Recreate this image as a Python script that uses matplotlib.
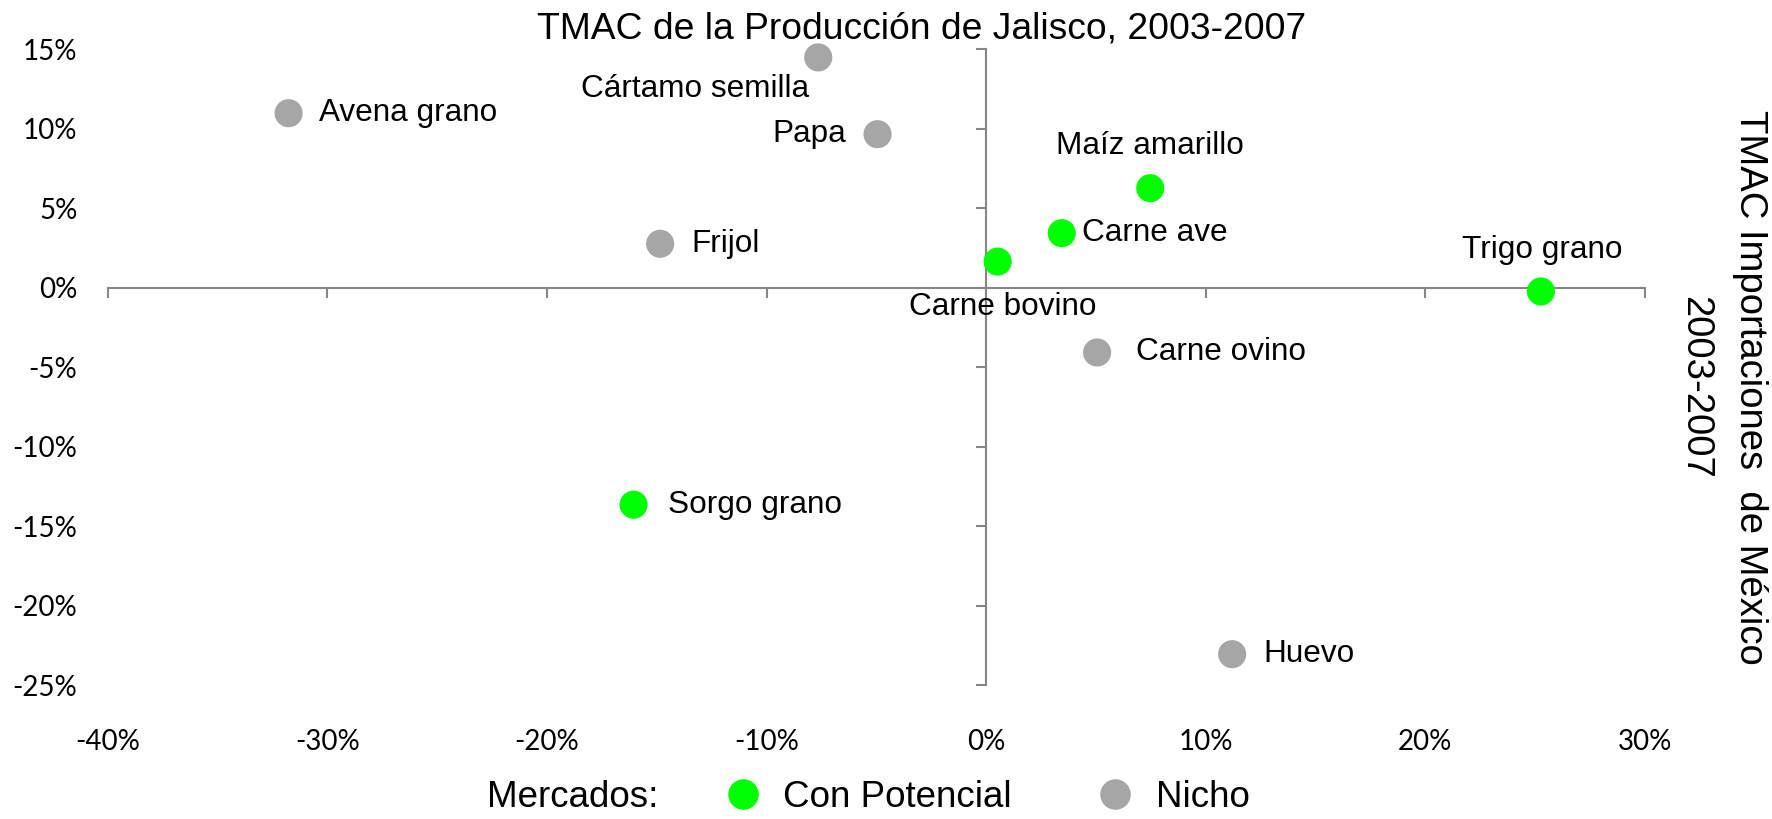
import matplotlib
matplotlib.use("Agg")
import matplotlib.pyplot as plt
from matplotlib.lines import Line2D
from matplotlib.ticker import FixedLocator

# ---------------- data ----------------
productos = ["Cártamo semilla", "Avena grano", "Papa", "Maíz amarillo", "Carne ave",
             "Frijol", "Carne bovino", "Trigo grano", "Carne ovino", "Sorgo grano", "Huevo"]
tmac_produccion = [-7.65, -31.77, -4.95, 7.47, 3.44, -14.85, 0.52, 25.26, 5.05, -16.06, 11.2]
tmac_importaciones = [14.5, 10.99, 9.67, 6.27, 3.44, 2.77, 1.65, -0.23, -4.07, -13.65, -23.06]
mercado = ["Nicho", "Nicho", "Nicho", "Con Potencial", "Con Potencial", "Nicho",
           "Con Potencial", "Con Potencial", "Nicho", "Con Potencial", "Nicho"]
categorias = ["Con Potencial", "Nicho"]
x_ticks = [-40, -30, -20, -10, 0, 10, 20, 30]
y_ticks = [-25, -20, -15, -10, -5, 0, 5, 10, 15]
titulo = "TMAC de la Producción de Jalisco, 2003-2007"
eje_y = "TMAC Importaciones  de México\n2003-2007"

# ---------------- style ----------------
colores = {"Con Potencial": "#00FF00", "Nicho": "#A6A6A6"}
axis_color = "#868686"
lab_font = "Liberation Sans"
tick_font = "Lato"
# label offsets (points) and alignment for each product's data label
label_pos = {
    "Cártamo semilla": ((-88.7, -23), "center"),
    "Avena grano": ((21.6, 0), "left"),
    "Papa": ((-22.3, 0), "right"),
    "Maíz amarillo": ((0, 30.2), "center"),
    "Carne ave": ((14.4, 0), "left"),
    "Frijol": ((22.3, 0), "left"),
    "Carne bovino": ((3.6, -32.4), "center"),
    "Trigo grano": ((0.9, 30), "center"),
    "Carne ovino": ((28, 0), "left"),
    "Sorgo grano": ((24.5, 0), "left"),
    "Huevo": ((22.3, 0), "left"),
}

fig = plt.figure(figsize=(17.72, 8.19), dpi=100)
ax = fig.add_axes([0.0609, 0.1636, 0.8674, 0.7760])
ax.set_xlim(x_ticks[0], x_ticks[-1])
ax.set_ylim(y_ticks[0], y_ticks[-1])

for s in ["top", "right"]:
    ax.spines[s].set_visible(False)
for s in ["left", "bottom"]:
    ax.spines[s].set_position(("data", 0))
    ax.spines[s].set_color(axis_color)
    ax.spines[s].set_linewidth(1.5)

ax.xaxis.set_major_locator(FixedLocator(x_ticks))
ax.yaxis.set_major_locator(FixedLocator(y_ticks))
ax.tick_params(axis="both", direction="out", length=7.2, width=1.5, color=axis_color,
               labelbottom=False, labelleft=False)

# tick labels at the outer edges
secx = ax.secondary_xaxis("bottom")
secx.set_xticks(x_ticks, labels=[f"{v}%" for v in x_ticks])
secx.spines["bottom"].set_visible(False)
secx.tick_params(length=0, pad=32, labelsize=20)
for t in secx.get_xticklabels():
    t.set_fontfamily(tick_font)

secy = ax.secondary_yaxis("left")
secy.set_yticks(y_ticks, labels=[f"{v}%" for v in y_ticks])
secy.spines["left"].set_visible(False)
secy.tick_params(length=0, pad=22, labelsize=20)
for t in secy.get_yticklabels():
    t.set_fontfamily(tick_font)

# points
for cat in categorias:
    xs = [x for x, m in zip(tmac_produccion, mercado) if m == cat]
    ys = [y for y, m in zip(tmac_importaciones, mercado) if m == cat]
    ax.scatter(xs, ys, s=410, color=colores[cat], edgecolors="none", zorder=3, clip_on=False)

for name, x, y in zip(productos, tmac_produccion, tmac_importaciones):
    off, ha = label_pos[name]
    ax.annotate(name, (x, y), xytext=off, textcoords="offset points", ha=ha, va="center",
                fontsize=22.7, fontfamily=lab_font, color="black", zorder=4)

fig.text(0.52, 0.965, titulo, ha="center", va="center", fontsize=26.8, fontfamily=lab_font)

ax.text(1.0505, 0.469, eje_y, transform=ax.transAxes, rotation=270, ha="center", va="center",
        multialignment="center", fontsize=27.5, fontfamily=lab_font, linespacing=1.7)

handles = [Line2D([0], [0], marker="o", ls="none", markerfacecolor=colores[c],
                  markeredgecolor="none", markersize=22) for c in categorias]
fig.legend(handles, categorias, loc="center", bbox_to_anchor=(0.557, 0.026), ncol=2,
           frameon=False, prop={"family": lab_font, "size": 26.5}, handlelength=1.0,
           handletextpad=0.6, columnspacing=2.3, borderpad=0, borderaxespad=0)
fig.text(0.3713, 0.026, "Mercados:", ha="right", va="center", fontsize=26.5, fontfamily=lab_font)

fig.savefig("out.png", dpi=100)
